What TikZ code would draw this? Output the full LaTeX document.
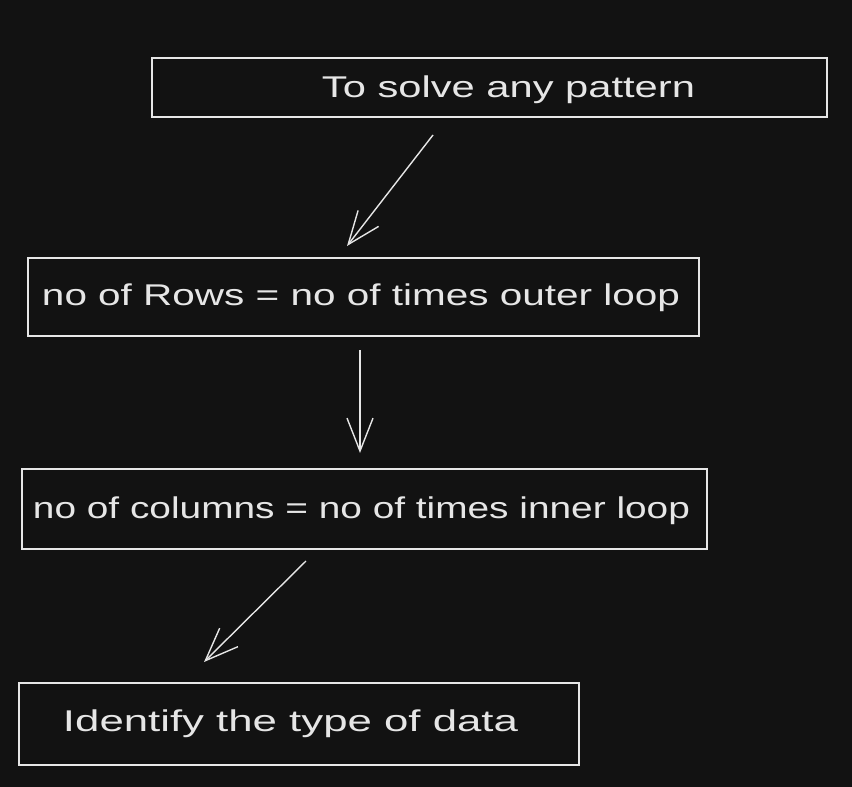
\documentclass[tikz,border=0pt]{standalone}
\usepackage{fontspec}
\setmainfont{Liberation Sans}
\usetikzlibrary{arrows.meta}
\definecolor{bg}{HTML}{121212}
\definecolor{ink}{HTML}{E6E6E6}
\newcommand{\fitw}[2]{\resizebox{#1}{\height}{#2}}
\begin{document}
\begin{tikzpicture}[x=1pt,y=-1pt,
  box/.style={draw=ink,line width=1.4pt},
  lbl/.style={text=ink,font=\fontsize{30}{34}\selectfont,inner sep=0pt,anchor=center},
  arr/.style={draw=ink,line width=1.4pt,-{Straight Barb[length=33pt,width=26pt,line width=1.4pt]}}]
\fill[bg] (0,0) rectangle (852,787);
\useasboundingbox (0,0) rectangle (852,787);
\draw[box] (152,58) rectangle (827,117);
\draw[box] (28,258) rectangle (699,336);
\draw[box] (22,469) rectangle (707,549);
\draw[box] (19,683) rectangle (579,765);
\node[lbl] (t1) at (508.5,90) {\fitw{373pt}{To solve any pattern}};
\node[lbl] (t2) at (361,298) {\fitw{638pt}{no of Rows = no of times outer loop}};
\node[lbl] (t3) at (361.5,511) {\fitw{657pt}{no of columns = no of times inner loop}};
\node[lbl] (t4) at (290.5,724) {\fitw{455pt}{Identify the type of data}};
\coordinate (a1s) at (433,135);
\coordinate (a1e) at (347,246);
\coordinate (a2s) at (360,350);
\coordinate (a2e) at (360,453);
\coordinate (a3s) at (306,561);
\coordinate (a3e) at (204,662);
\draw[arr] (a1s) -- (a1e);
\draw[arr] (a2s) -- (a2e);
\draw[arr] (a3s) -- (a3e);
\end{tikzpicture}
\end{document}
